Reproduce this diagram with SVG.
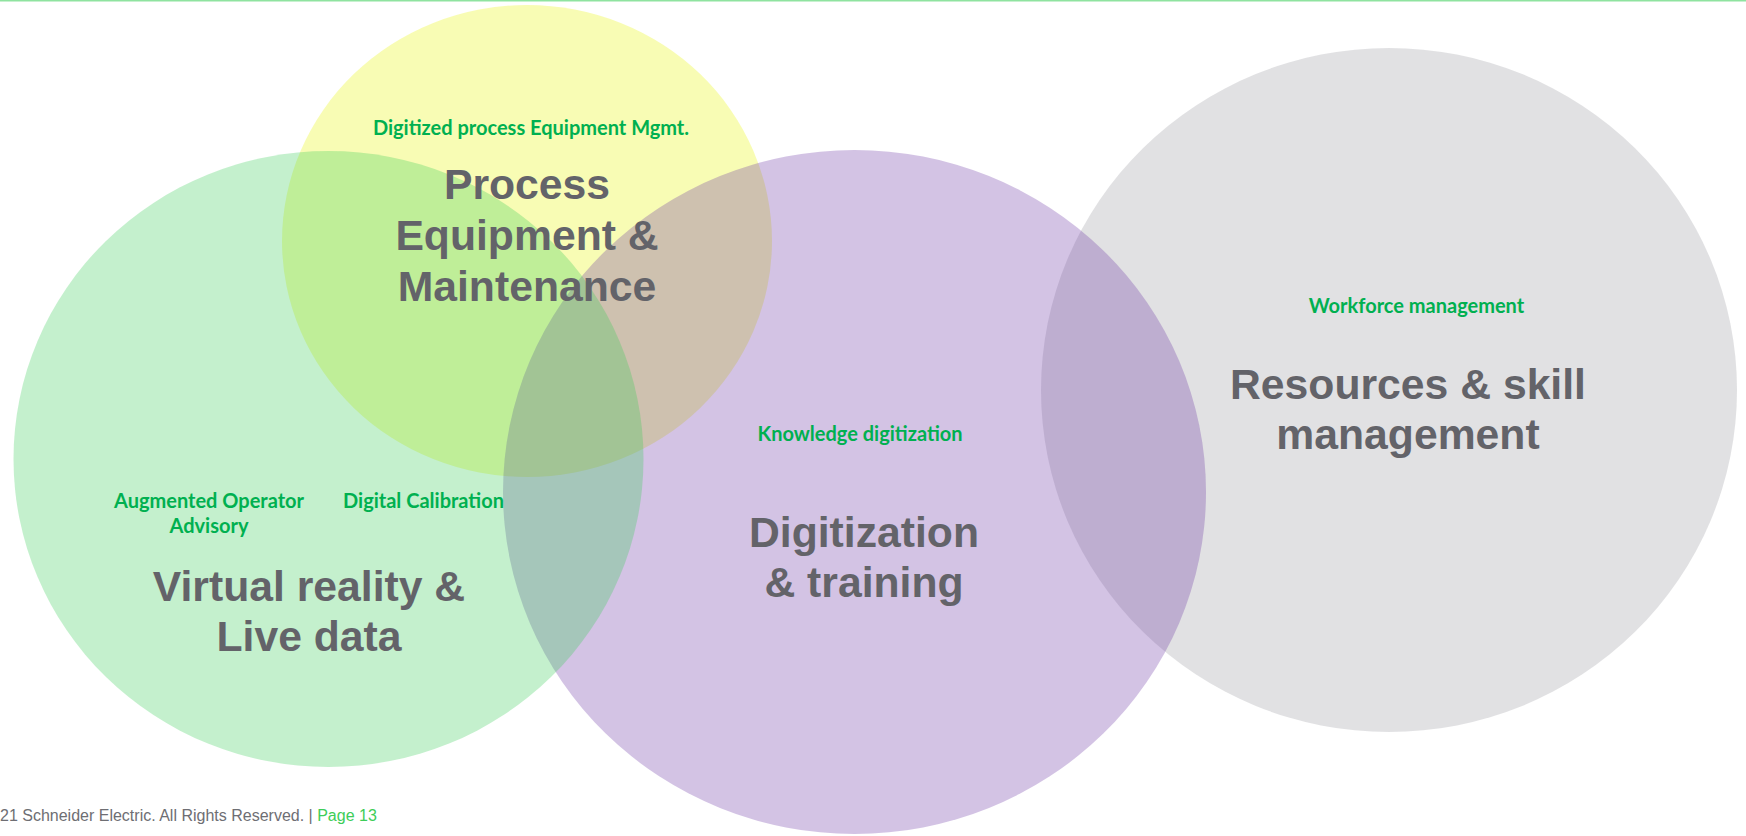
<svg xmlns="http://www.w3.org/2000/svg" width="1746" height="836" viewBox="0 0 1746 836">
<style>
.bg{fill:#ffffff}
.c{fill-opacity:0.3;stroke:none}
.big{font-family:"Liberation Sans",Arial,sans-serif;font-weight:bold;font-size:42.7px;fill:#636369;text-anchor:middle}
.sub{font-family:Lato,"Open Sans",sans-serif;font-weight:bold;font-size:20px;fill:#00B050;text-anchor:middle}
.foot{font-family:"Liberation Sans",Arial,sans-serif;font-size:16px;fill:#6E6E73}
</style>
<rect class="bg" x="0" y="0" width="1746" height="836"/>
<rect x="0" y="0" width="1746" height="1.5" fill="#8FE3A0"/>
<g id="shapes">
  <g id="process-equipment"><ellipse class="c" cx="527" cy="241" rx="245" ry="236" fill="#E8F505"/></g>
  <g id="resources-skill"><ellipse class="c" cx="1389" cy="390" rx="348" ry="342" fill="#9B9DA2"/></g>
  <g id="digitization-training"><ellipse class="c" cx="854.5" cy="492" rx="351.5" ry="342" fill="#6C37A5"/></g>
  <g id="virtual-reality"><ellipse class="c" cx="328.5" cy="459" rx="315" ry="308" fill="#3DCD58"/></g>
</g>
<g id="labels">
  <g id="process-equipment-labels">
    <text class="sub" x="531" y="135">Digitized process Equipment Mgmt.</text>
    <text class="big" x="527" y="199">Process</text>
    <text class="big" x="527" y="250">Equipment &amp;</text>
    <text class="big" x="527" y="301">Maintenance</text>
  </g>
  <g id="virtual-reality-labels">
    <text class="sub" x="209" y="508">Augmented Operator</text>
    <text class="sub" x="209" y="533">Advisory</text>
    <text class="sub" x="423.5" y="508">Digital Calibration</text>
    <text class="big" x="309" y="601">Virtual reality &amp;</text>
    <text class="big" x="309" y="651">Live data</text>
  </g>
  <g id="digitization-training-labels">
    <text class="sub" x="860" y="441">Knowledge digitization</text>
    <text class="big" x="864" y="547">Digitization</text>
    <text class="big" x="864" y="597">&amp; training</text>
  </g>
  <g id="resources-skill-labels">
    <text class="sub" x="1416.5" y="313">Workforce management</text>
    <text class="big" x="1408" y="399">Resources &amp; skill</text>
    <text class="big" x="1408" y="449">management</text>
  </g>
</g>
<g id="footer">
  <text class="foot" x="0" y="821">21 Schneider Electric. All Rights Reserved. | <tspan fill="#3DCD58">Page 13</tspan></text>
</g>
</svg>
